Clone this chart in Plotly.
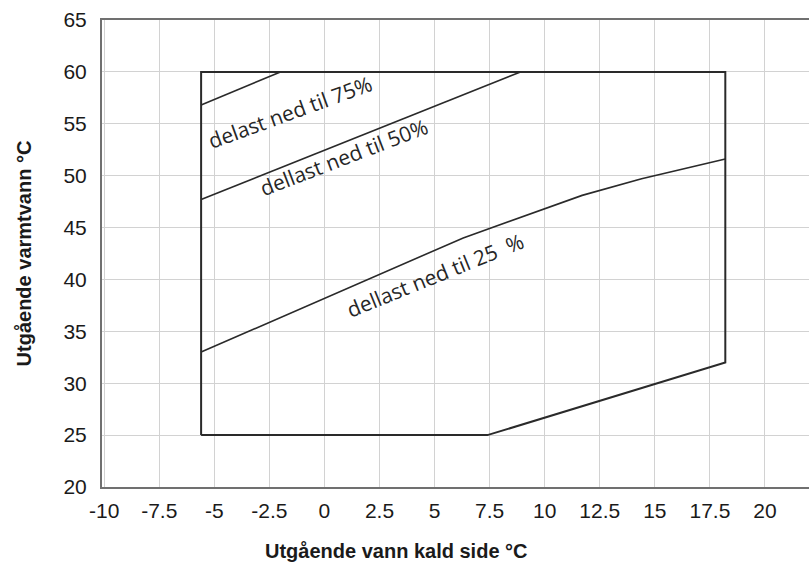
import plotly.graph_objects as go

# ---- data ----
boundary_x = [-5.6, 7.4, 18.2, 18.2, -5.6, -5.6]
boundary_y = [25.0, 25.0, 32.0, 60.0, 60.0, 25.0]

load75_x = [-5.6, -2.0]
load75_y = [56.8, 60.0]

load50_x = [-5.6, 8.9]
load50_y = [47.7, 60.0]

load25_x = [-5.6, 6.3, 11.7, 14.4, 18.2]
load25_y = [33.0, 44.0, 48.1, 49.7, 51.6]

x_tickvals = [-10, -7.5, -5, -2.5, 0, 2.5, 5, 7.5, 10, 12.5, 15, 17.5, 20]
x_ticktext = ["-10", "-7.5", "-5", "-2.5", "0", "2.5", "5", "7.5", "10", "12.5", "15", "17.5", "20"]
y_tickvals = [20, 25, 30, 35, 40, 45, 50, 55, 60, 65]

label_texts = ["delast ned til 75%", "dellast ned til 50%", "dellast ned til 25  %"]
label_x = [-1.55, 0.9, 5.05]
label_y = [56.1, 51.8, 40.4]
label_angles = [-20, -21, -22]

x_title = "Utgående vann kald side °C"
y_title = "Utgående varmtvann °C"

# ---- figure ----
line_col = "#2a2a2a"
fig = go.Figure()
fig.add_trace(go.Scatter(x=boundary_x, y=boundary_y, mode="lines",
                         line=dict(color=line_col, width=2), hoverinfo="skip"))
for xs, ys in [(load75_x, load75_y), (load50_x, load50_y), (load25_x, load25_y)]:
    fig.add_trace(go.Scatter(x=xs, y=ys, mode="lines",
                             line=dict(color=line_col, width=1.6), hoverinfo="skip"))

for t, ax_, ay_, ang in zip(label_texts, label_x, label_y, label_angles):
    fig.add_annotation(x=ax_, y=ay_, text=t, textangle=ang, showarrow=False,
                       xanchor="center", yanchor="middle",
                       font=dict(family="Open Sans, Lato, sans-serif", size=21, color="#262626"))

tick_font = dict(family="Liberation Sans, Arial, sans-serif", size=21, color="#1a1a1a")
title_font = dict(family="Liberation Sans, Arial, sans-serif", size=20, color="#1a1a1a")

# x-axis title (offset left of the plot centre, as in the reference)
fig.add_annotation(xref="paper", yref="paper", x=0.417, y=-0.137,
                   text="<b>" + x_title + "</b>", showarrow=False,
                   xanchor="center", yanchor="middle", font=title_font)

fig.update_layout(
    width=809, height=565,
    margin=dict(l=102, r=0, t=20, b=78, autoexpand=False),
    paper_bgcolor="white", plot_bgcolor="white",
    showlegend=False,
    xaxis=dict(range=[-10.1, 22.0], tickvals=x_tickvals, ticktext=x_ticktext,
               showgrid=True, gridcolor="#d2d2d2", gridwidth=1, automargin=False,
               zeroline=False, showline=True, linecolor="#707070", linewidth=2,
               mirror=True, ticks="", tickfont=tick_font, ticklabelstandoff=4),
    yaxis=dict(range=[20, 65], tickvals=y_tickvals, automargin=False,
               showgrid=True, gridcolor="#d2d2d2", gridwidth=1,
               zeroline=False, showline=True, linecolor="#707070", linewidth=2,
               mirror=False, ticks="", tickfont=tick_font, ticklabelstandoff=9,
               title=dict(text="<b>" + y_title + "</b>", font=title_font, standoff=26)),
)

fig.write_html("out.html", config={"displayModeBar": False},
               post_script="document.body.style.margin='0px';")
